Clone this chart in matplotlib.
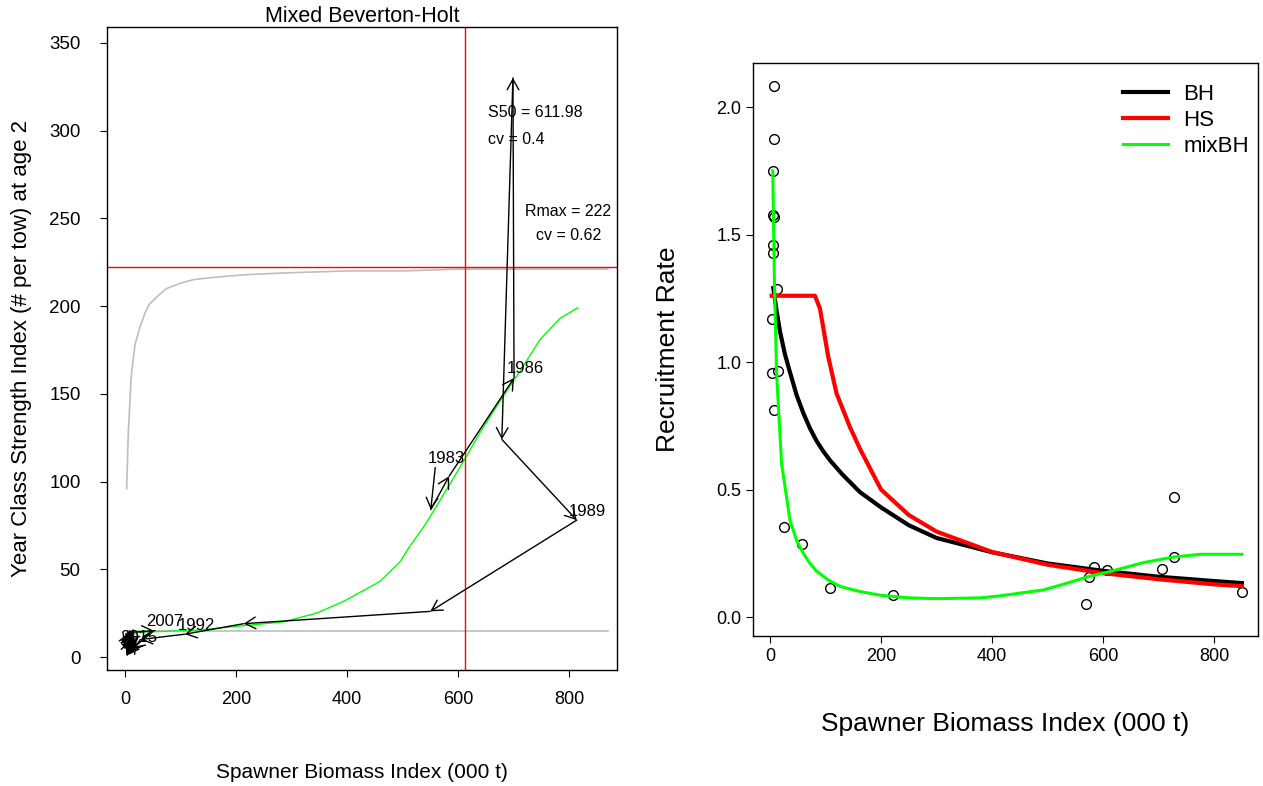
import matplotlib
matplotlib.use("Agg")
import matplotlib.pyplot as plt

# ---- left panel: stock-recruit trajectory (S, R) by year ----
years = list(range(1983, 2016))
traj_s = [559, 551, 584, 701, 699, 679, 814, 550, 214, 108, 28,
          12, 2, 18, 4, 9, 1, 15, 6, 20, 3, 11, 1, 8,
          52, 14, 2, 10, 5, 17, 3, 9, 4]
traj_r = [108, 84, 103, 159, 330, 124, 78, 26, 19, 13, 10,
          3, 13, 7, 1, 15, 6, 11, 2, 9, 12, 4, 9, 14,
          15, 5, 11, 2, 14, 8, 3, 10, 6]
label_years = [1983, 1986, 1989, 1992, 2007, 2015]

# model curves
bh_upper_s = [3, 6, 11, 18, 27, 36, 44, 60, 75, 100, 123, 150, 183, 225, 300, 400, 500, 600, 700, 870]
bh_upper_r = [96, 128, 159, 178, 188, 196, 201, 206, 210, 213, 215, 216, 217, 218, 219, 220, 220, 221, 221, 221]
bh_lower_s = [2, 870]
bh_lower_r = [15, 15]
mix_s = [5, 21, 60, 135, 195, 285, 345, 387, 405, 459, 495, 513, 540, 568, 590, 609, 640, 676, 712, 748, 784, 816]
mix_r = [11, 14, 14.5, 15.4, 17.3, 20, 25, 30.7, 33.6, 43, 54, 63, 75, 89.5, 101, 111, 128, 146, 163, 181, 193, 199]

s50 = 611.98
rmax = 222

# ---- right panel: recruitment rate R/S ----
rate_s = [8, 8, 5, 5, 8, 6, 5, 12, 4, 4, 15, 7, 25, 57, 108, 221,
          570, 574, 584, 607, 706, 728, 728, 850]
rate_r = [2.083, 1.875, 1.749, 1.577, 1.567, 1.458, 1.429, 1.288, 1.167, 0.956, 0.963, 0.811,
          0.353, 0.288, 0.113, 0.086, 0.050, 0.156, 0.197, 0.184, 0.187, 0.235, 0.471, 0.097]

bh_s = [6, 12, 18, 27, 36, 48, 60, 72, 84, 96, 108, 130, 162, 200, 250, 300, 400, 500, 600, 700, 800, 850]
bh_rate = [1.29, 1.20, 1.12, 1.03, 0.96, 0.87, 0.80, 0.74, 0.69, 0.65, 0.615, 0.56, 0.49, 0.43, 0.36, 0.31,
           0.254, 0.21, 0.181, 0.158, 0.141, 0.133]
hs_s = [3, 81, 90, 105, 120, 144, 162, 200, 250, 300, 400, 500, 600, 700, 800, 850]
hs_rate = [1.26, 1.26, 1.21, 1.02, 0.876, 0.745, 0.66, 0.50, 0.40, 0.335, 0.255, 0.205, 0.172, 0.148, 0.128, 0.121]
mixbh_s = [5, 8, 12, 21, 36, 48, 60, 72, 84, 105, 126, 162, 200, 250, 300, 380, 414, 492, 534, 573, 612, 672, 726,
           775, 850]
mixbh_rate = [1.75, 1.31, 0.95, 0.60, 0.38, 0.30, 0.25, 0.21, 0.18, 0.145, 0.12, 0.10, 0.085, 0.075, 0.072, 0.075,
              0.083, 0.106, 0.132, 0.158, 0.178, 0.213, 0.235, 0.246, 0.246]

plt.rcParams.update({
    "font.family": ["Liberation Sans", "DejaVu Sans"],
    "axes.linewidth": 1.0,
    "xtick.major.size": 5,
    "ytick.major.size": 5,
    "xtick.direction": "out",
    "ytick.direction": "out",
})

fig = plt.figure(figsize=(12.63, 7.86), dpi=100)
W, H = 1263, 786


def px_axes(left, top, right, bottom):
    return fig.add_axes([left / W, 1 - bottom / H, (right - left) / W, (bottom - top) / H])


# ---------------- left panel ----------------
ax = px_axes(107, 27, 617, 670)
ax.plot(bh_upper_s, bh_upper_r, color="#BEBEBE", lw=1.2)
ax.plot(bh_lower_s, bh_lower_r, color="#BEBEBE", lw=1.2)
ax.plot(mix_s, mix_r, color="#00FF00", lw=1.0)
ax.axvline(s50, color="red", lw=1.0)
ax.axhline(rmax, color="red", lw=1.0)

# year-to-year trajectory arrows
for i in range(len(years) - 1):
    ax.annotate("", xy=(traj_s[i + 1], traj_r[i + 1]), xytext=(traj_s[i], traj_r[i]),
                arrowprops=dict(arrowstyle="->,head_length=0.75,head_width=0.42", mutation_scale=10,
                                lw=1.0, color="black", shrinkA=0, shrinkB=0))
for yr in label_years:
    i = years.index(yr)
    ax.annotate(str(yr), xy=(traj_s[i], traj_r[i]), xytext=(8, 6.5), textcoords="offset points",
                ha="center", va="center", fontsize=12)

ax.text(654, 310, "S50 = 611.98", fontsize=11.5, ha="left", va="center")
ax.text(654, 295, "cv = 0.4", fontsize=11.5, ha="left", va="center")
ax.text(798, 254, "Rmax = 222", fontsize=11.5, ha="center", va="center")
ax.text(800, 240, "cv = 0.62", fontsize=11.5, ha="center", va="center")

ax.set_xlim(-32.4, 886.5)
ax.set_ylim(-7.4, 359)
ax.set_xticks([0, 200, 400, 600, 800])
ax.set_yticks([0, 50, 100, 150, 200, 250, 300, 350])
ax.tick_params(axis="x", labelsize=13, pad=10)
ax.tick_params(axis="y", labelsize=13.5, pad=14)
ax.set_title("Mixed Beverton-Holt", fontsize=15.5, pad=2)
ax.set_xlabel("Spawner Biomass Index (000 t)", fontsize=15, labelpad=40)
ax.set_ylabel("Year Class Strength Index (# per tow) at age 2", fontsize=16, labelpad=12)

# ---------------- right panel ----------------
ax2 = px_axes(753, 63, 1258, 636)
ax2.plot(rate_s, rate_r, "o", mfc="none", mec="black", ms=7, mew=1.0)
ax2.plot(bh_s, bh_rate, color="black", lw=3, label="BH")
ax2.plot(hs_s, hs_rate, color="red", lw=3, label="HS")
ax2.plot(mixbh_s, mixbh_rate, color="#00FF00", lw=2.2, label="mixBH")

ax2.set_xlim(-30.6, 879)
ax2.set_ylim(-0.0745, 2.173)
ax2.set_xticks([0, 200, 400, 600, 800])
ax2.set_yticks([0.0, 0.5, 1.0, 1.5, 2.0])
ax2.set_yticklabels(["0.0", "0.5", "1.0", "1.5", "2.0"])
ax2.tick_params(labelsize=13)
ax2.set_xlabel("Spawner Biomass Index (000 t)", fontsize=19, labelpad=34)
ax2.set_ylabel("Recruitment Rate", fontsize=19, labelpad=26)
ax2.legend(loc="upper right", frameon=False, fontsize=16, handlelength=2.0, handletextpad=0.7,
           labelspacing=0.22, borderaxespad=0, bbox_to_anchor=(1.0, 0.979))

fig.savefig("out.png", dpi=100)
